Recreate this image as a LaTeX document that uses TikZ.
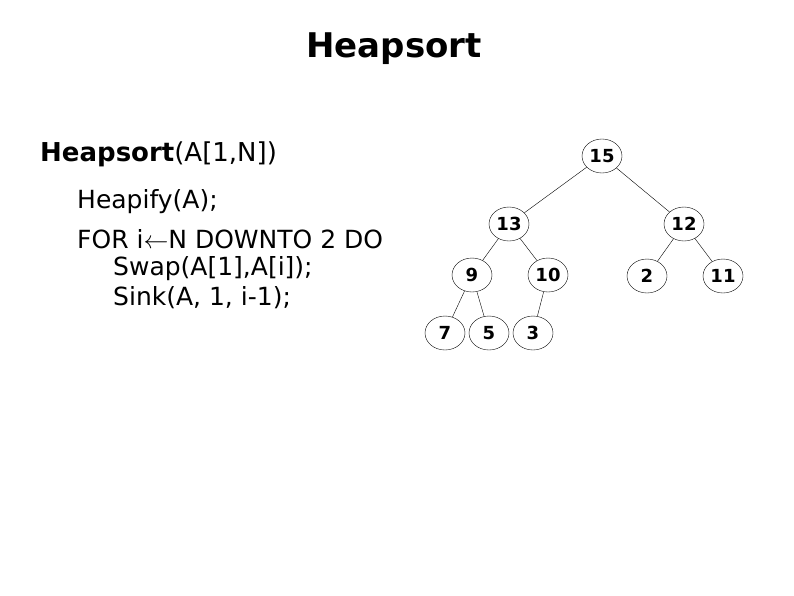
\documentclass[tikz,border=0pt]{standalone}
\usepackage{fontspec}
\setmainfont{DejaVu Sans}
\usepackage{tikz}
\usetikzlibrary{shapes.geometric}
\tikzset{
  heapkey/.style={ellipse,draw,thin,minimum width=40pt,minimum height=34pt,inner sep=0pt,font=\fontsize{18}{18}\selectfont\bfseries},
  codeline/.style={anchor=base west,inner sep=0pt,font=\fontsize{25}{25}\selectfont}
}
\begin{document}
\begin{tikzpicture}[x=1pt,y=-1pt]
\useasboundingbox (0,0) rectangle (794,595);
\node[anchor=base,inner sep=0pt,font=\fontsize{34}{34}\selectfont\bfseries] (title) at (394,57) {Heapsort};
% pseudocode
\node[codeline,font=\fontsize{26}{26}\selectfont] (head) at (40,161) {\textbf{Heapsort}(A[1,N])};
\node[codeline] (heapify) at (77,208) {Heapify(A);};
\node[codeline] (forloop) at (77,248) {FOR i$\leftarrow$N DOWNTO 2 DO};
\node[codeline] (swap) at (113,275) {Swap(A[1],A[i]);};
\node[codeline] (sink) at (113,305) {Sink(A, 1, i-1);};
% heap
\node[heapkey] (n15) at (602,156) {15};
\node[heapkey] (n13) at (509,224) {13};
\node[heapkey] (n12) at (684,224) {12};
\node[heapkey] (n9) at (472,275) {9};
\node[heapkey] (n10) at (548,275) {10};
\node[heapkey] (n2) at (647,276) {2};
\node[heapkey] (n11) at (723,276) {11};
\node[heapkey] (n7) at (445,333) {7};
\node[heapkey] (n5) at (489,333) {5};
\node[heapkey] (n3) at (533,333) {3};
\foreach \a/\b in {n15/n13,n15/n12,n13/n9,n13/n10,n12/n2,n12/n11,n9/n7,n9/n5,n10/n3}
  \draw[thin] (\a) -- (\b);
\end{tikzpicture}
\end{document}
